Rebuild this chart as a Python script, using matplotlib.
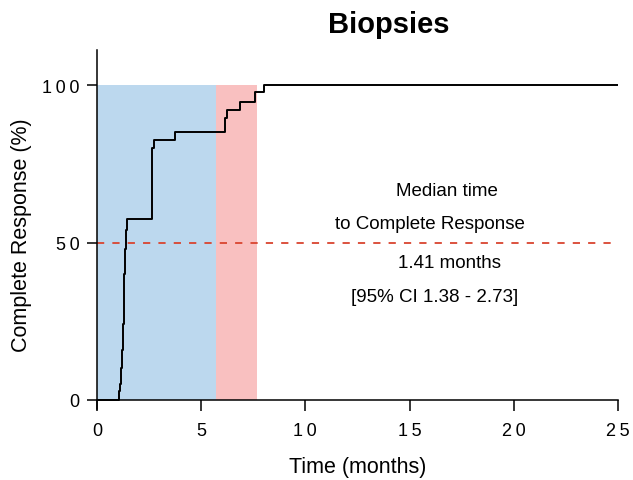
import matplotlib
matplotlib.use("Agg")
import matplotlib.pyplot as plt

plt.rcParams["font.family"] = ["Liberation Sans", "DejaVu Sans"]

# Kaplan-Meier style cumulative complete response (step, post)
times = [0, 1.06, 1.10, 1.13, 1.17, 1.20, 1.24, 1.28, 1.32, 1.36, 1.40, 1.45,
         2.65, 2.73, 3.74, 6.14, 6.22, 6.86, 7.58, 8.01, 25]
response = [0, 3, 5, 8, 10, 16, 24, 32, 40, 48, 54, 57.5,
            80, 82.5, 85, 89.5, 92.2, 94.7, 97.7, 100, 100]

blue_span = (0, 5.72)
pink_span = (5.72, 7.66)
median_line = 50

xticks = [0, 5, 10, 15, 20, 25]
yticks = [0, 50, 100]

def spaced(v):
    return "\u2009".join(str(v))

fig = plt.figure(figsize=(6.33, 4.81), dpi=100)
ax = fig.add_axes([0.1532, 0.1467, 0.823, 0.7465])

ax.axvspan(*blue_span, ymin=3 / 114, ymax=103 / 114, color="#bcd8ee", lw=0, zorder=1)
ax.axvspan(*pink_span, ymin=3 / 114, ymax=103 / 114, color="#f9c0c0", lw=0, zorder=1)

ax.plot([0, 25], [median_line, median_line], color="#d9442f", lw=1.3,
        linestyle=(0, (4, 4.5)), zorder=2)
ax.step(times, response, where="post", color="black", lw=1.4, zorder=3)

ax.set_xlim(0, 25)
ax.set_ylim(-3, 111)
for s in ["top", "right"]:
    ax.spines[s].set_visible(False)
ax.spines["bottom"].set_position(("data", 0))
ax.spines["left"].set_linewidth(1.1)
ax.spines["bottom"].set_linewidth(1.1)

ax.set_xticks(xticks)
ax.set_xticklabels([spaced(v) for v in xticks])
ax.set_yticks(yticks)
ax.set_yticklabels([spaced(v) for v in yticks])
ax.tick_params(axis="x", length=8, width=1.1, pad=8, labelsize=13)
ax.tick_params(axis="y", length=7, width=1.1, pad=5.5, labelsize=13)

fig.text(358 / 633, 1 - 468 / 481, "Time (months)", ha="center", va="center", fontsize=15.5)
fig.text(22 / 633, 1 - 235 / 481, "Complete Response (%)", ha="center", va="center",
         rotation=90, fontsize=15.5)
fig.text(389 / 633, 1 - 25 / 481, "Biopsies", ha="center", va="center",
         fontsize=21, fontweight="bold")

ax.text(16.8, 66.4, "Median time", ha="center", va="center", fontsize=13.5)
ax.text(15.98, 55.9, "to Complete Response", ha="center", va="center", fontsize=13.5)
ax.text(16.94, 43.8, "1.41 months", ha="center", va="center", fontsize=13.5)
ax.text(16.2, 33.0, "[95% CI 1.38 - 2.73]", ha="center", va="center", fontsize=13.5)

plt.savefig("out.png", dpi=100)
